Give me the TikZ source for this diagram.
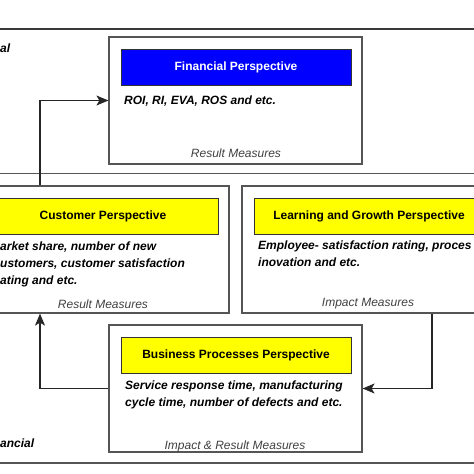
\documentclass[tikz,border=0pt]{standalone}
\usepackage{fontspec}
\setmainfont{Liberation Sans}
\usepackage{xcolor}
\usetikzlibrary{arrows.meta,positioning}
\definecolor{framegray}{HTML}{3A3A3A}
\definecolor{boxgray}{HTML}{555555}
\definecolor{persblue}{HTML}{0000FF}
\definecolor{persyellow}{HTML}{FFFF00}

\begin{document}
\begin{tikzpicture}[
  x=1pt,y=-1pt,
  font=\fontsize{12}{17}\selectfont,
  persbox/.style={draw=boxgray,line width=1.2pt,minimum width=253pt,minimum height=127pt,inner sep=0pt},
  bar/.style={draw=black!80,line width=1pt,minimum width=230pt,minimum height=36pt,inner sep=0pt,font=\fontsize{12}{14}\selectfont\bfseries},
  meas/.style={font=\fontsize{12}{14}\selectfont\itshape,text=black!75,inner sep=0pt},
  body/.style={font=\fontsize{12}{17}\selectfont\bfseries\itshape,align=left,inner sep=0pt,anchor=north west},
  arr/.style={-{Stealth[length=12pt,width=10pt,inset=3pt]},line width=1.2pt,draw=black!85}
]
\useasboundingbox (0,0) rectangle (474,474);
% frame lines
\draw[framegray,line width=2pt] (0,29) -- (474,29);
\draw[boxgray,line width=2pt] (0,463) -- (474,463);
\draw[boxgray,line width=0.9pt] (0,173) -- (474,173);
\node[anchor=base west,inner sep=0pt,font=\fontsize{12}{14}\selectfont\bfseries\itshape] (lbltop) at (0,52) {al};
\node[anchor=base west,inner sep=0pt,font=\fontsize{12}{14}\selectfont\bfseries\itshape] (lblbot) at (0,447) {ancial};

% perspectives
\node[persbox] (fin) at (235.5,100.5) {};
\node[bar,fill=persblue,text=white] (finbar) at (236,67.5) {Financial Perspective};
\node[body] (fintxt) at (124,96) {ROI, RI, EVA, ROS and etc.};
\node[meas] (finmeas) at (236,153) {Result Measures};

\node[persbox] (cust) at (102.5,249.5) {};
\node[bar,fill=persyellow] (custbar) at (103,216.5) {Customer Perspective};
\node[body] (custtxt) at (0,242) {arket share, number of new\\ustomers, customer satisfaction\\ating and etc.};
\node[meas] (custmeas) at (103,304) {Result Measures};

\node[persbox] (learn) at (368.5,249.5) {};
\node[bar,fill=persyellow] (learnbar) at (369,216.5) {Learning and Growth Perspective};
\node[body] (learntxt) at (258,241) {Employee- satisfaction rating, proces\\inovation and etc.};
\node[meas] (learnmeas) at (368,304) {Impact Measures};

\node[persbox] (bus) at (235.5,388.5) {};
\node[bar,fill=persyellow] (busbar) at (236,355) {Business Processes Perspective};
\node[body] (bustxt) at (125,381) {Service response time, manufacturing\\cycle time, number of defects and etc.};
\node[meas] (busmeas) at (235,446) {Impact \& Result Measures};

% cause and effect links
\coordinate (lx) at (40,0);
\coordinate (rx) at (432,0);
\draw[arr] (lx |- cust.north) |- (fin.west);
\draw[arr] (bus.west) -| (lx |- cust.south);
\draw[arr] (rx |- learn.south) |- (bus.east);
\end{tikzpicture}
\end{document}
